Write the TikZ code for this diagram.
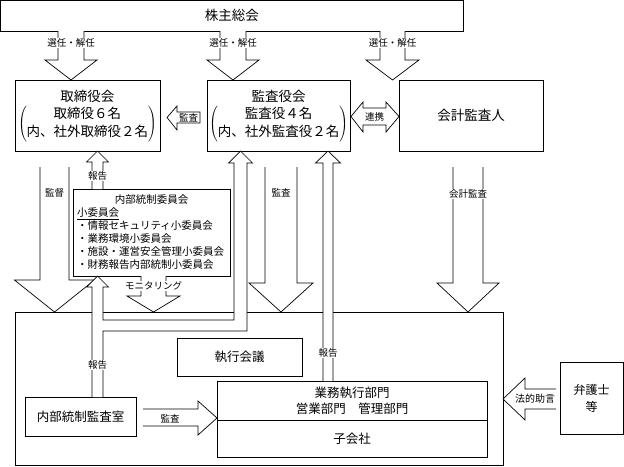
\documentclass[tikz,border=0pt]{standalone}
\usepackage{fontspec}
\setmainfont{Noto Sans CJK JP}
\usetikzlibrary{positioning}

\begin{document}
\begin{tikzpicture}[x=1pt,y=-1pt,
  box/.style={draw,line width=0.7pt,inner sep=0pt,align=center,
    font=\fontsize{12.5}{16}\selectfont},
  bigtext/.style={font=\fontsize{13.5}{18}\selectfont},
  blk/.style={draw,fill=white,line width=0.7pt,line join=miter},
  lbl/.style={fill=white,inner sep=1pt,font=\fontsize{9.5}{11}\selectfont}]
\useasboundingbox (0,0) rectangle (624,466);

% outer frame of the company
\node[draw,line width=0.7pt,minimum width=488pt,minimum height=153pt] (kaisha) at (259,388.5) {};

\node[box,bigtext,minimum width=462.5pt,minimum height=30.5pt] (kabunushi) at (231.75,15.75) {株主総会};
\node[box,bigtext,minimum width=145pt,minimum height=71pt] (torishimari) at (87.5,116)
  {取締役会\\[2pt]$\left(\begin{tabular}{@{}c@{}}取締役６名\\内、社外取締役２名\end{tabular}\right)$};
\node[box,bigtext,minimum width=143pt,minimum height=71pt] (kansayaku) at (278.5,116)
  {監査役会\\[2pt]$\left(\begin{tabular}{@{}c@{}}監査役４名\\内、社外監査役２名\end{tabular}\right)$};
\node[box,bigtext,minimum width=144pt,minimum height=71pt] (kaikei) at (471,115.5) {会計監査人};

\node[draw,line width=0.7pt,minimum height=87pt,text width=149pt,inner sep=4pt,align=left,
  font=\fontsize{10.5}{13}\selectfont] (iinkai) at (151.5,232.5)
  {\makebox[149pt]{内部統制委員会}\\\underline{小委員会}\\・情報セキュリティ小委員会\\
   ・業務環境小委員会\\・施設・運営安全管理小委員会\\・財務報告内部統制小委員会};

\node[box,minimum width=125pt,minimum height=38pt] (shikko) at (239.5,357) {執行会議};
\node[box,minimum width=111pt,minimum height=39pt] (kansashitsu) at (80.5,416.5) {内部統制監査室};
\node[box,minimum width=270pt,minimum height=39pt] (gyomu) at (352,400.5) {業務執行部門\\営業部門　管理部門};
\node[box,minimum width=270pt,minimum height=37pt,below=0pt of gyomu] (kogaisha) {子会社};
\node[box,minimum width=63pt,minimum height=72pt,font=\fontsize{12}{17}\selectfont] (bengoshi) at (591.5,398) {弁護士\\等};

% election by shareholders
\draw[blk] (58,31) -- (58,60) -- (45,60) -- (71,80) -- (97,60) -- (84,60) -- (84,31);
\draw[blk] (220,31) -- (220,60) -- (207,60) -- (233,80) -- (259,60) -- (246,60) -- (246,31);
\draw[blk] (380,31) -- (380,60) -- (366,60) -- (392.5,80) -- (419,60) -- (405,60) -- (405,31);
\node[lbl] (sen1) at (71,43) {選任・解任};
\node[lbl] (sen2) at (233,43) {選任・解任};
\node[lbl] (sen3) at (392.5,43) {選任・解任};

% audit of the board, cooperation
\draw[blk] (167,117.5) -- (177,106) -- (177,112) -- (200,112) -- (200,123) -- (177,123) -- (177,130) -- cycle;
\node[font=\fontsize{9.5}{11}\selectfont,inner sep=0pt] (kansa1) at (188.5,117.5) {監査};
\draw[blk] (351,116.5) -- (363,102) -- (363,108) -- (386,108) -- (386,102) -- (399,116.5)
  -- (386,132) -- (386,125) -- (363,125) -- (363,132) -- cycle;
\node[font=\fontsize{9.5}{11}\selectfont,inner sep=0pt] (renkei) at (374.5,116.5) {連携};

% downward arrows into the company
\draw[blk] (40,167) -- (40,280) -- (14.5,280) -- (54.5,312) -- (94.5,280) -- (69,280) -- (69,167);
\node[lbl] (kantoku) at (54.5,193) {監督};
\draw[blk] (265,167) -- (265,283) -- (249,283) -- (281,312) -- (313,283) -- (297,283) -- (297,167);
\node[lbl] (kansa2) at (281,193) {監査};
\draw[blk] (453,167) -- (453,283) -- (437,283) -- (468,312) -- (499,283) -- (483,283) -- (483,167);
\node[lbl] (kansa3) at (468,194) {会計監査};

% committee reports and monitoring
\draw[blk] (92,189) -- (92,162) -- (86.5,162) -- (97.5,151) -- (108.5,162) -- (103,162) -- (103,189);
\node[lbl] (hokoku1) at (97.5,176) {報告};
\draw[blk] (141,276) -- (141,296) -- (127,296) -- (153.5,312) -- (180,296) -- (166,296) -- (166,276);
\node[lbl] (monitor) at (153.5,286) {モニタリング};

% reports from the internal audit office
\draw[blk] (92,397) -- (92,287) -- (86.5,287) -- (97.5,276) -- (108.5,287) -- (103,287) -- (103,320)
  -- (234,320) -- (234,163) -- (228.5,163) -- (240.5,151) -- (252.5,163) -- (247,163)
  -- (247,331) -- (103,331) -- (103,397);
\node[lbl] (hokoku2) at (97.5,365) {報告};
\draw[blk] (323,381) -- (323,163) -- (315.5,163) -- (328,151) -- (340.5,163) -- (333,163) -- (333,381);
\node[lbl] (hokoku3) at (328,353) {報告};

% audit of operations, legal advice
\draw[blk] (143,409) -- (198,409) -- (198,401) -- (217,418) -- (198,435) -- (198,426) -- (143,426);
\node[font=\fontsize{9.5}{11}\selectfont,inner sep=0pt] (kansa4) at (170,419) {監査};
\draw[blk] (556,389) -- (525,389) -- (525,378) -- (503,399) -- (525,420) -- (525,409) -- (556,409);
\node[font=\fontsize{10}{11}\selectfont,inner sep=0pt] (hoteki) at (535,399) {法的助言};
\end{tikzpicture}
\end{document}
